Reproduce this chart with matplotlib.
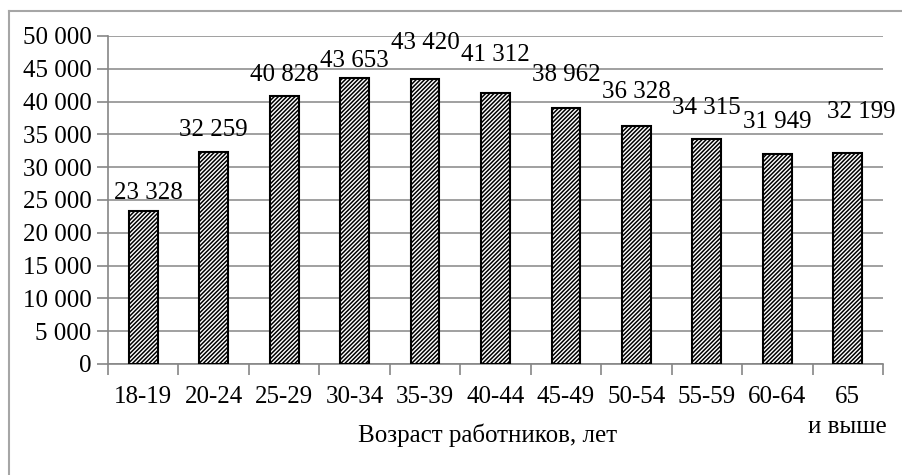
import matplotlib.pyplot as plt
from matplotlib.lines import Line2D

# age groups and average salary
categories = ['18-19', '20-24', '25-29', '30-34', '35-39', '40-44',
              '45-49', '50-54', '55-59', '60-64', '65\nи выше']
values = [23328, 32259, 40828, 43653, 43420, 41312,
          38962, 36328, 34315, 31949, 32199]
yticks = list(range(0, 50001, 5000))

# label offsets above bar tops (points), labels were placed by hand in the original
label_dy = [13, 16, 15, 12, 26, 27, 24, 24, 22, 23, 29]
label_dx = [4, 0, 0, 0, 0, 0, 0, 0, 0, 0, 10]

plt.rcParams['font.family'] = ['Liberation Serif', 'DejaVu Serif']
plt.rcParams['hatch.linewidth'] = 1.1
grey = '#868686'
fs = 18

fig = plt.figure(figsize=(9.02, 4.75), dpi=100)
ax = fig.add_axes([108 / 902, 1 - 364 / 475, 775 / 902, 328 / 475])

x = list(range(len(categories)))
ax.bar(x, values, width=0.41, color='white', edgecolor='black',
       linewidth=1.5, hatch='////////', zorder=3)

for i, v in enumerate(values):
    s = f'{v:,}'.replace(',', ' ')
    ax.annotate(s, (i, v), xytext=(label_dx[i], label_dy[i]), textcoords='offset points',
                ha='center', va='center', fontsize=fs, annotation_clip=False)

ax.set_xlim(-0.5, len(categories) - 0.5)
ax.set_ylim(0, 50000)
ax.set_yticks(yticks)
ax.set_yticklabels([f'{t:,}'.replace(',', ' ') for t in yticks], fontsize=fs)
ax.yaxis.grid(True, color=grey, linewidth=1.1, zorder=0)

ax.set_xticks(x)
ax.set_xticklabels(categories, fontsize=fs, va='top', linespacing=1.45)
ax.set_xticks([i - 0.5 for i in range(len(categories) + 1)], minor=True)
ax.tick_params(axis='x', which='major', length=0, pad=16)
ax.tick_params(axis='x', which='minor', length=8, color=grey, width=1.2)
ax.tick_params(axis='y', length=8, color=grey, width=1.2, pad=4)

for side in ['top', 'right']:
    ax.spines[side].set_visible(False)
for side in ['left', 'bottom']:
    ax.spines[side].set_color(grey)
    ax.spines[side].set_linewidth(1.2)

ax.set_xlabel('Возраст работников, лет', fontsize=fs)
ax.xaxis.set_label_coords(0.49, -0.18)

# outer chart frame (only left and top edges are visible)
fig.add_artist(Line2D([9 / 902, 9 / 902], [0, 1 - 11 / 475], color='#a6a6a6', linewidth=1.5,
                      transform=fig.transFigure))
fig.add_artist(Line2D([9 / 902, 1], [1 - 11 / 475, 1 - 11 / 475], color='#a6a6a6', linewidth=1.5,
                      transform=fig.transFigure))

fig.savefig('out.png', dpi=100)
